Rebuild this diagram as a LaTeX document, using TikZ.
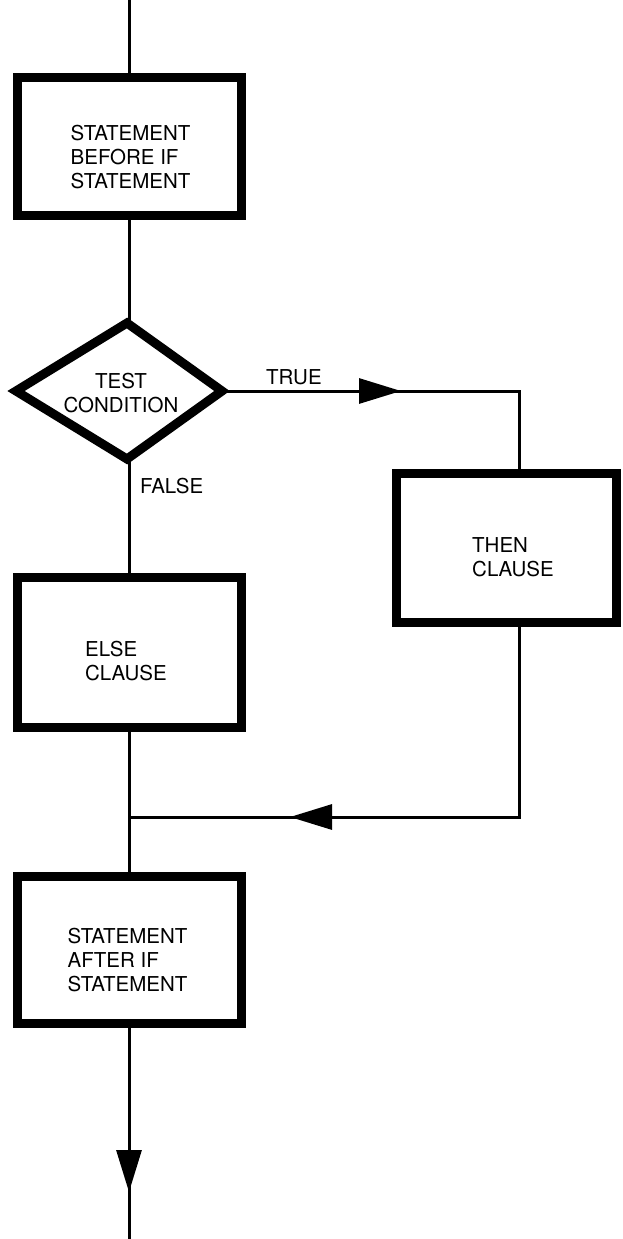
\documentclass[tikz,border=0pt]{standalone}
\usepackage{fontspec}
\setmainfont{TeX Gyre Heros}
\usetikzlibrary{arrows.meta,decorations.markings}
\begin{document}
\begin{tikzpicture}[x=1pt,y=-1pt,
  box/.style={draw,line width=9pt,rectangle,inner sep=0pt},
  decline/.style={line width=9pt,line join=miter},
  conn/.style={line width=3pt},
  lbl/.style={font=\fontsize{20.5}{24}\selectfont,inner sep=0pt,align=left},
  tipmark/.style={postaction={decorate},decoration={markings,mark=at position #1 with {\arrow{Triangle[length=42pt,width=25pt]}}}}
]
\fill[white] (0,0) rectangle (622,1239);
\useasboundingbox (0,0) rectangle (622,1239);

\node[box,minimum width=224pt,minimum height=138pt] (b1) at (129,146.5) {};
\node[box,minimum width=220pt,minimum height=149pt] (then) at (506.5,548) {};
\node[box,minimum width=224pt,minimum height=150pt] (els) at (129,652.5) {};
\node[box,minimum width=224pt,minimum height=147pt] (aft) at (129,950) {};

% decision diamond
\coordinate (dn) at (127,323);
\coordinate (de) at (222,391);
\coordinate (ds) at (127,459);
\coordinate (dw) at (16,391);
\draw[decline] (dn) -- (de) -- (ds) -- (dw) -- cycle;

\node[lbl] (b1t) at (130.5,157.5) {STATEMENT\\BEFORE IF\\STATEMENT};
\node[lbl,align=center] (diat) at (121,393) {TEST\\CONDITION};
\node[lbl] (thent) at (513,557.5) {THEN\\CLAUSE};
\node[lbl] (elst) at (126,661) {ELSE\\CLAUSE};
\node[lbl] (aftt) at (127.5,960) {STATEMENT\\AFTER IF\\STATEMENT};
\node[lbl,anchor=base west] (tru) at (266,384) {TRUE};
\node[lbl,anchor=base west] (fal) at (140,493) {FALSE};

\coordinate (top) at (129,0);
\coordinate (tc) at (519,391);
\coordinate (jr) at (519,817);
\coordinate (jl) at (129,817);
\coordinate (bot) at (129,1239);

\draw[conn] (top) -- (b1.north);
\draw[conn] (b1.south) -- (b1.south |- dn);
\draw[conn,tipmark=179pt] (de) -- (tc) -- (tc |- then.north);
\draw[conn] (b1.south |- ds) -- (els.north);
\draw[conn] (els.south) -- (aft.north);
\draw[conn,tipmark=419pt] (tc |- then.south) -- (jr) -- (jl);
\draw[conn,tipmark=164pt] (aft.south) -- (bot);
\end{tikzpicture}
\end{document}
